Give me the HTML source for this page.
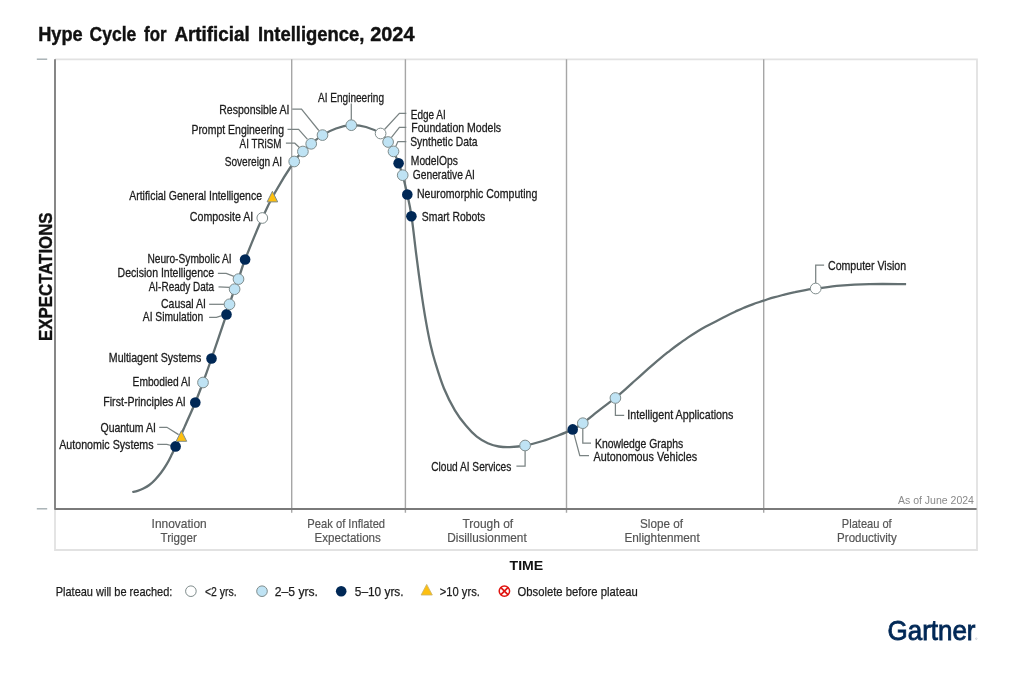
<!DOCTYPE html>
<html lang="en">
<head>
<meta charset="utf-8">
<title>Hype Cycle for Artificial Intelligence, 2024</title>
<style>
html,body{margin:0;padding:0;background:#fff;}
body{width:1025px;height:683px;overflow:hidden;}
svg{display:block;filter:blur(0.4px);}
text{font-family:"Liberation Sans",Arial,sans-serif;}
.lbl{font-size:11.9px;fill:#1c1c1c;stroke:#1c1c1c;stroke-width:0.28px;}
.stage{font-size:13.4px;fill:#555;stroke:#555;stroke-width:0.2px;}
.leg{font-size:13.1px;fill:#1c1c1c;stroke:#1c1c1c;stroke-width:0.25px;}
.ld{fill:none;stroke:#7a8383;stroke-width:1.25;}
.m{stroke:#7f8c8c;stroke-width:1;}
</style>
</head>
<body>
<svg width="1025" height="683" viewBox="0 0 1025 683">
<rect x="0" y="0" width="1025" height="683" fill="#ffffff"/>

<text x="38.2" y="41" font-size="19.3" font-weight="700" fill="#111" stroke="#111" stroke-width="0.4" textLength="44.5" lengthAdjust="spacingAndGlyphs">Hype</text>
<text x="89.5" y="41" font-size="19.3" font-weight="700" fill="#111" stroke="#111" stroke-width="0.4" textLength="46.8" lengthAdjust="spacingAndGlyphs">Cycle</text>
<text x="144.1" y="41" font-size="19.3" font-weight="700" fill="#111" stroke="#111" stroke-width="0.4" textLength="22.5" lengthAdjust="spacingAndGlyphs">for</text>
<text x="174.4" y="41" font-size="19.3" font-weight="700" fill="#111" stroke="#111" stroke-width="0.4" textLength="75.3" lengthAdjust="spacingAndGlyphs">Artificial</text>
<text x="258.0" y="41" font-size="19.3" font-weight="700" fill="#111" stroke="#111" stroke-width="0.4" textLength="106.4" lengthAdjust="spacingAndGlyphs">Intelligence,</text>
<text x="370.2" y="41" font-size="19.3" font-weight="700" fill="#111" stroke="#111" stroke-width="0.4" textLength="44.3" lengthAdjust="spacingAndGlyphs">2024</text>
<path d="M55 59.3H977V550H55V509" fill="none" stroke="#e2e2e2" stroke-width="1.8"/>
<line x1="291.7" y1="59.3" x2="291.7" y2="512.7" stroke="#a6a6a6" stroke-width="1.4"/>
<line x1="405.4" y1="59.3" x2="405.4" y2="512.7" stroke="#a6a6a6" stroke-width="1.4"/>
<line x1="566.5" y1="59.3" x2="566.5" y2="512.7" stroke="#a6a6a6" stroke-width="1.4"/>
<line x1="763.7" y1="59.3" x2="763.7" y2="512.7" stroke="#a6a6a6" stroke-width="1.4"/>
<path d="M55 59.3V509H976.6" fill="none" stroke="#7a7a7a" stroke-width="1.8" stroke-linejoin="round"/>
<line x1="36.8" y1="59.2" x2="47.2" y2="59.2" stroke="#a3adb0" stroke-width="1.4"/>
<line x1="36.8" y1="508.8" x2="47.2" y2="508.8" stroke="#a3adb0" stroke-width="1.4"/>
<text transform="translate(52 341) rotate(-90)" font-size="19.2" font-weight="700" fill="#111" stroke="#111" stroke-width="0.35" textLength="128.6" lengthAdjust="spacingAndGlyphs">EXPECTATIONS</text>
<path d="M132.3 492.0 C133.2 491.8 135.8 491.5 137.6 490.9 C139.4 490.3 141.4 489.5 143.4 488.5 C145.4 487.5 147.4 486.5 149.3 485.0 C151.2 483.5 153.2 481.8 155.1 479.7 C157.0 477.6 159.0 475.3 161.0 472.7 C163.0 470.1 165.2 466.8 166.9 463.9 C168.7 461.0 170.1 458.0 171.5 455.1 C172.9 452.2 174.0 449.7 175.6 446.4 C177.2 443.1 179.3 438.6 180.9 435.2 C182.5 431.8 183.7 428.8 185.0 425.9 C186.3 423.0 186.8 421.9 188.5 418.0 C190.2 414.1 192.9 408.4 195.3 402.5 C197.7 396.6 200.3 389.8 203.0 382.5 C205.7 375.2 207.6 369.9 211.5 358.5 C215.4 347.1 223.5 323.4 226.5 314.4 C229.5 305.4 228.2 308.5 229.5 304.3 C230.8 300.1 233.1 293.4 234.6 289.2 C236.1 285.0 236.8 284.1 238.5 279.1 C240.2 274.2 241.1 269.7 245.1 259.5 C249.1 249.3 257.3 229.2 262.3 218.0 C267.3 206.8 269.7 201.9 275.0 192.5 C280.3 183.1 289.6 168.3 294.2 161.5 C298.8 154.7 300.1 154.4 302.9 151.5 C305.7 148.6 307.9 146.5 311.2 143.8 C314.5 141.1 318.4 137.7 322.5 135.1 C326.6 132.5 331.2 130.2 336.0 128.5 C340.8 126.8 346.3 125.5 351.3 125.2 C356.3 125.0 361.1 125.6 366.0 127.0 C370.9 128.4 376.9 131.0 380.6 133.5 C384.3 136.0 386.0 139.0 388.1 142.0 C390.2 145.0 391.8 147.9 393.5 151.4 C395.2 154.9 397.1 159.2 398.6 163.2 C400.1 167.2 401.2 170.0 402.7 175.2 C404.1 180.4 405.8 187.7 407.3 194.5 C408.8 201.3 410.0 206.1 411.5 216.2 C413.0 226.3 414.8 243.0 416.3 254.9 C417.8 266.8 419.1 276.5 420.7 287.8 C422.3 299.1 424.5 313.4 426.2 322.9 C427.9 332.4 429.1 338.5 430.6 345.0 C432.1 351.5 432.9 354.8 435.1 362.0 C437.3 369.2 440.6 380.2 443.9 388.3 C447.2 396.4 451.2 404.1 454.9 410.3 C458.6 416.5 462.2 421.2 465.9 425.6 C469.5 430.0 473.1 433.7 476.8 436.6 C480.5 439.5 484.1 441.6 487.8 443.2 C491.5 444.8 495.1 445.9 498.8 446.5 C502.5 447.1 505.4 447.3 509.8 447.1 C514.2 446.9 519.6 446.5 525.1 445.5 C530.6 444.5 537.2 442.7 542.7 441.0 C548.2 439.3 553.1 437.4 558.1 435.5 C563.1 433.6 568.6 431.4 572.7 429.4 C576.8 427.3 578.2 426.5 582.8 423.2 C587.3 419.9 594.6 413.8 600.0 409.6 C605.4 405.4 611.0 401.4 615.4 397.9 C619.8 394.4 623.1 391.3 626.4 388.4 C629.7 385.5 632.2 383.1 635.1 380.5 C638.0 377.9 641.0 375.2 643.9 372.6 C646.8 370.0 649.8 367.4 652.7 364.8 C655.6 362.2 658.6 359.7 661.5 357.3 C664.4 354.9 667.4 352.6 670.3 350.3 C673.2 348.0 676.2 345.8 679.1 343.7 C682.0 341.6 684.9 339.6 687.8 337.6 C690.7 335.7 693.7 333.8 696.6 332.0 C699.5 330.2 701.9 328.7 705.4 326.8 C708.9 324.9 714.1 322.3 717.6 320.5 C721.1 318.7 723.5 317.4 726.4 315.9 C729.3 314.4 732.2 313.0 735.1 311.7 C738.0 310.4 741.0 309.0 743.9 307.8 C746.8 306.6 749.4 305.5 752.7 304.3 C756.0 303.1 760.1 301.8 763.6 300.6 C767.1 299.5 770.3 298.4 773.8 297.4 C777.2 296.4 780.8 295.5 784.3 294.6 C787.8 293.7 791.4 292.9 794.9 292.2 C798.4 291.4 801.9 290.7 805.4 290.1 C808.9 289.5 809.8 289.4 815.6 288.6 C821.4 287.9 831.2 286.4 840.2 285.6 C849.2 284.9 858.5 284.4 869.5 284.1 C880.5 283.9 900.0 284.1 906.1 284.1" fill="none" stroke="#647072" stroke-width="2.3" stroke-linecap="butt" stroke-linejoin="round"/>
<polyline class="ld" points="292.2,109.2 301.5,109.2 318.8,130.5"/>
<polyline class="ld" points="287.5,129.3 298.6,129.3 307.5,139.3"/>
<polyline class="ld" points="285.9,143.2 294.8,143.2 299.4,147.5"/>
<polyline class="ld" points="351.3,103.4 351.3,120.0"/>
<polyline class="ld" points="406.3,113.4 399.4,113.4 384.5,129.5"/>
<polyline class="ld" points="406.3,127.4 399.4,127.4 391.3,137.6"/>
<polyline class="ld" points="406.3,141.6 397.9,141.6 395.7,146.4"/>
<polyline class="ld" points="217.9,273.4 226.2,273.4 233.9,276.4"/>
<polyline class="ld" points="218.5,286.8 229.5,287.4"/>
<polyline class="ld" points="209.1,304.3 225.1,304.3"/>
<polyline class="ld" points="209.1,317.3 216.4,317.3 221.8,315.7"/>
<polyline class="ld" points="159.2,427.3 166.9,427.3 178.6,434.6"/>
<polyline class="ld" points="157.2,444.4 166.9,444.4 171.0,445.5"/>
<polyline class="ld" points="525.1,450.5 525.1,466.2 516.4,466.2"/>
<polyline class="ld" points="574.1,434.4 579.8,455.7 589.0,455.7"/>
<polyline class="ld" points="582.8,428.5 582.8,443.2 591.0,443.2"/>
<polyline class="ld" points="615.4,403.5 615.4,415.3 624.2,415.3"/>
<polyline class="ld" points="815.7,283.3 815.7,265.1 824.1,265.1"/>
<circle cx="175.6" cy="446.4" r="5.3" fill="#002856"/>
<path class="m" d="M181.4 430.7 L186.7 441.3 L176.1 441.3 Z" fill="#fdbf10" stroke="#c9b26a"/>
<circle cx="195.3" cy="402.5" r="5.3" fill="#002856"/>
<circle class="m" cx="203.0" cy="382.5" r="5.35" fill="#bfe3f4"/>
<circle cx="211.5" cy="358.5" r="5.3" fill="#002856"/>
<circle cx="226.5" cy="314.4" r="5.3" fill="#002856"/>
<circle class="m" cx="229.5" cy="304.3" r="5.35" fill="#bfe3f4"/>
<circle class="m" cx="234.6" cy="289.2" r="5.35" fill="#bfe3f4"/>
<circle class="m" cx="238.5" cy="279.1" r="5.35" fill="#bfe3f4"/>
<circle cx="245.1" cy="259.5" r="5.3" fill="#002856"/>
<circle class="m" cx="262.3" cy="218.0" r="5.35" fill="#ffffff"/>
<path class="m" d="M272.4 191.3 L277.7 201.9 L267.1 201.9 Z" fill="#fdbf10" stroke="#c9b26a"/>
<circle class="m" cx="294.2" cy="161.5" r="5.35" fill="#bfe3f4"/>
<circle class="m" cx="302.9" cy="151.5" r="5.35" fill="#bfe3f4"/>
<circle class="m" cx="311.2" cy="143.8" r="5.35" fill="#bfe3f4"/>
<circle class="m" cx="322.5" cy="135.1" r="5.35" fill="#bfe3f4"/>
<circle class="m" cx="351.3" cy="125.2" r="5.35" fill="#bfe3f4"/>
<circle class="m" cx="380.6" cy="133.5" r="5.35" fill="#ffffff"/>
<circle class="m" cx="388.1" cy="142.0" r="5.35" fill="#bfe3f4"/>
<circle class="m" cx="393.5" cy="151.4" r="5.35" fill="#bfe3f4"/>
<circle cx="398.6" cy="163.2" r="5.3" fill="#002856"/>
<circle class="m" cx="402.7" cy="175.2" r="5.35" fill="#bfe3f4"/>
<circle cx="407.3" cy="194.5" r="5.3" fill="#002856"/>
<circle cx="411.4" cy="216.2" r="5.3" fill="#002856"/>
<circle class="m" cx="525.1" cy="445.5" r="5.35" fill="#bfe3f4"/>
<circle cx="572.7" cy="429.4" r="5.3" fill="#002856"/>
<circle class="m" cx="582.8" cy="423.2" r="5.35" fill="#bfe3f4"/>
<circle class="m" cx="615.4" cy="398.0" r="5.35" fill="#bfe3f4"/>
<circle class="m" cx="815.7" cy="288.5" r="5.35" fill="#ffffff"/>
<text class="lbl" x="219.2" y="113.7" textLength="70.3" lengthAdjust="spacingAndGlyphs">Responsible AI</text>
<text class="lbl" x="191.4" y="133.6" textLength="92.6" lengthAdjust="spacingAndGlyphs">Prompt Engineering</text>
<text class="lbl" x="239.6" y="147.9" textLength="41.8" lengthAdjust="spacingAndGlyphs">AI TRiSM</text>
<text class="lbl" x="224.7" y="166.1" textLength="57.3" lengthAdjust="spacingAndGlyphs">Sovereign AI</text>
<text class="lbl" x="129.2" y="200.2" textLength="132.8" lengthAdjust="spacingAndGlyphs">Artificial General Intelligence</text>
<text class="lbl" x="189.8" y="221.0" textLength="63.5" lengthAdjust="spacingAndGlyphs">Composite AI</text>
<text class="lbl" x="147.4" y="263.2" textLength="84.3" lengthAdjust="spacingAndGlyphs">Neuro-Symbolic AI</text>
<text class="lbl" x="117.6" y="277.3" textLength="96.6" lengthAdjust="spacingAndGlyphs">Decision Intelligence</text>
<text class="lbl" x="148.7" y="291.1" textLength="65.5" lengthAdjust="spacingAndGlyphs">AI-Ready Data</text>
<text class="lbl" x="161.0" y="308.0" textLength="44.8" lengthAdjust="spacingAndGlyphs">Causal AI</text>
<text class="lbl" x="142.8" y="321.2" textLength="60.4" lengthAdjust="spacingAndGlyphs">AI Simulation</text>
<text class="lbl" x="108.8" y="361.8" textLength="92.6" lengthAdjust="spacingAndGlyphs">Multiagent Systems</text>
<text class="lbl" x="132.6" y="385.9" textLength="58.0" lengthAdjust="spacingAndGlyphs">Embodied AI</text>
<text class="lbl" x="103.3" y="405.5" textLength="82.4" lengthAdjust="spacingAndGlyphs">First-Principles AI</text>
<text class="lbl" x="100.5" y="431.9" textLength="55.3" lengthAdjust="spacingAndGlyphs">Quantum AI</text>
<text class="lbl" x="59.2" y="448.8" textLength="94.4" lengthAdjust="spacingAndGlyphs">Autonomic Systems</text>
<text class="lbl" x="318.0" y="101.6" textLength="66.0" lengthAdjust="spacingAndGlyphs">AI Engineering</text>
<text class="lbl" x="410.8" y="118.5" textLength="34.9" lengthAdjust="spacingAndGlyphs">Edge AI</text>
<text class="lbl" x="411.3" y="132.1" textLength="89.8" lengthAdjust="spacingAndGlyphs">Foundation Models</text>
<text class="lbl" x="410.2" y="146.2" textLength="67.4" lengthAdjust="spacingAndGlyphs">Synthetic Data</text>
<text class="lbl" x="410.8" y="165.0" textLength="47.0" lengthAdjust="spacingAndGlyphs">ModelOps</text>
<text class="lbl" x="412.8" y="178.9" textLength="62.1" lengthAdjust="spacingAndGlyphs">Generative AI</text>
<text class="lbl" x="417.0" y="198.0" textLength="120.3" lengthAdjust="spacingAndGlyphs">Neuromorphic Computing</text>
<text class="lbl" x="421.8" y="220.8" textLength="63.5" lengthAdjust="spacingAndGlyphs">Smart Robots</text>
<text class="lbl" x="431.2" y="471.0" textLength="80.1" lengthAdjust="spacingAndGlyphs">Cloud AI Services</text>
<text class="lbl" x="595.0" y="447.5" textLength="88.3" lengthAdjust="spacingAndGlyphs">Knowledge Graphs</text>
<text class="lbl" x="593.5" y="461.4" textLength="103.6" lengthAdjust="spacingAndGlyphs">Autonomous Vehicles</text>
<text class="lbl" x="627.3" y="419.4" textLength="106.0" lengthAdjust="spacingAndGlyphs">Intelligent Applications</text>
<text class="lbl" x="828.0" y="269.6" textLength="78.1" lengthAdjust="spacingAndGlyphs">Computer Vision</text>
<text x="898" y="503.6" font-size="11.8" fill="#8a8a8a" textLength="75.9" lengthAdjust="spacingAndGlyphs">As of June 2024</text>
<text class="stage" x="151.6" y="527.9" textLength="55.1" lengthAdjust="spacingAndGlyphs">Innovation</text>
<text class="stage" x="160.5" y="542.0" textLength="36.3" lengthAdjust="spacingAndGlyphs">Trigger</text>
<text class="stage" x="307.3" y="527.9" textLength="77.8" lengthAdjust="spacingAndGlyphs">Peak of Inflated</text>
<text class="stage" x="314.6" y="542.2" textLength="66.2" lengthAdjust="spacingAndGlyphs">Expectations</text>
<text class="stage" x="462.5" y="527.9" textLength="50.7" lengthAdjust="spacingAndGlyphs">Trough of</text>
<text class="stage" x="447.3" y="542.2" textLength="79.4" lengthAdjust="spacingAndGlyphs">Disillusionment</text>
<text class="stage" x="640.0" y="527.9" textLength="42.9" lengthAdjust="spacingAndGlyphs">Slope of</text>
<text class="stage" x="624.4" y="542.2" textLength="75.3" lengthAdjust="spacingAndGlyphs">Enlightenment</text>
<text class="stage" x="841.8" y="527.9" textLength="49.9" lengthAdjust="spacingAndGlyphs">Plateau of</text>
<text class="stage" x="837.1" y="542.2" textLength="59.7" lengthAdjust="spacingAndGlyphs">Productivity</text>
<text x="509.6" y="570.2" font-size="13.2" font-weight="700" fill="#111" textLength="33.7" lengthAdjust="spacingAndGlyphs">TIME</text>
<text class="leg" x="55.7" y="596.1" textLength="116.7" lengthAdjust="spacingAndGlyphs">Plateau will be reached:</text>
<text class="leg" x="204.9" y="596.1" textLength="31.7" lengthAdjust="spacingAndGlyphs">&lt;2 yrs.</text>
<text class="leg" x="274.8" y="596.1" textLength="43.2" lengthAdjust="spacingAndGlyphs">2–5 yrs.</text>
<text class="leg" x="354.8" y="596.1" textLength="48.8" lengthAdjust="spacingAndGlyphs">5–10 yrs.</text>
<text class="leg" x="439.8" y="596.1" textLength="40.1" lengthAdjust="spacingAndGlyphs">&gt;10 yrs.</text>
<text class="leg" x="517.5" y="596.1" textLength="120.2" lengthAdjust="spacingAndGlyphs">Obsolete before plateau</text>
<circle class="m" cx="190.9" cy="591.2" r="5.3" fill="#fff"/>
<circle class="m" cx="262" cy="591.2" r="5.3" fill="#bfe3f4"/>
<circle cx="341.2" cy="591.2" r="5.3" fill="#002856"/>
<path d="M426.7 584.4L432.3 595H421.1Z" fill="#fdbf10" stroke="#c9b26a" stroke-width="0.8"/>
<g stroke="#e01410" stroke-width="1.5" fill="none"><circle cx="504.4" cy="591.1" r="5.2" fill="#fff"/><path d="M500.7 587.4L508.1 594.8M508.1 587.4L500.7 594.8" stroke-width="1.7"/></g>
<text x="887.5" y="639.5" font-size="27.4" font-weight="400" fill="#002856" stroke="#002856" stroke-width="0.85" textLength="88" lengthAdjust="spacingAndGlyphs">Gartner</text>
<circle cx="976.3" cy="638.7" r="0.8" fill="none" stroke="#9aa4b4" stroke-width="0.4"/>
</svg>
</body>
</html>
